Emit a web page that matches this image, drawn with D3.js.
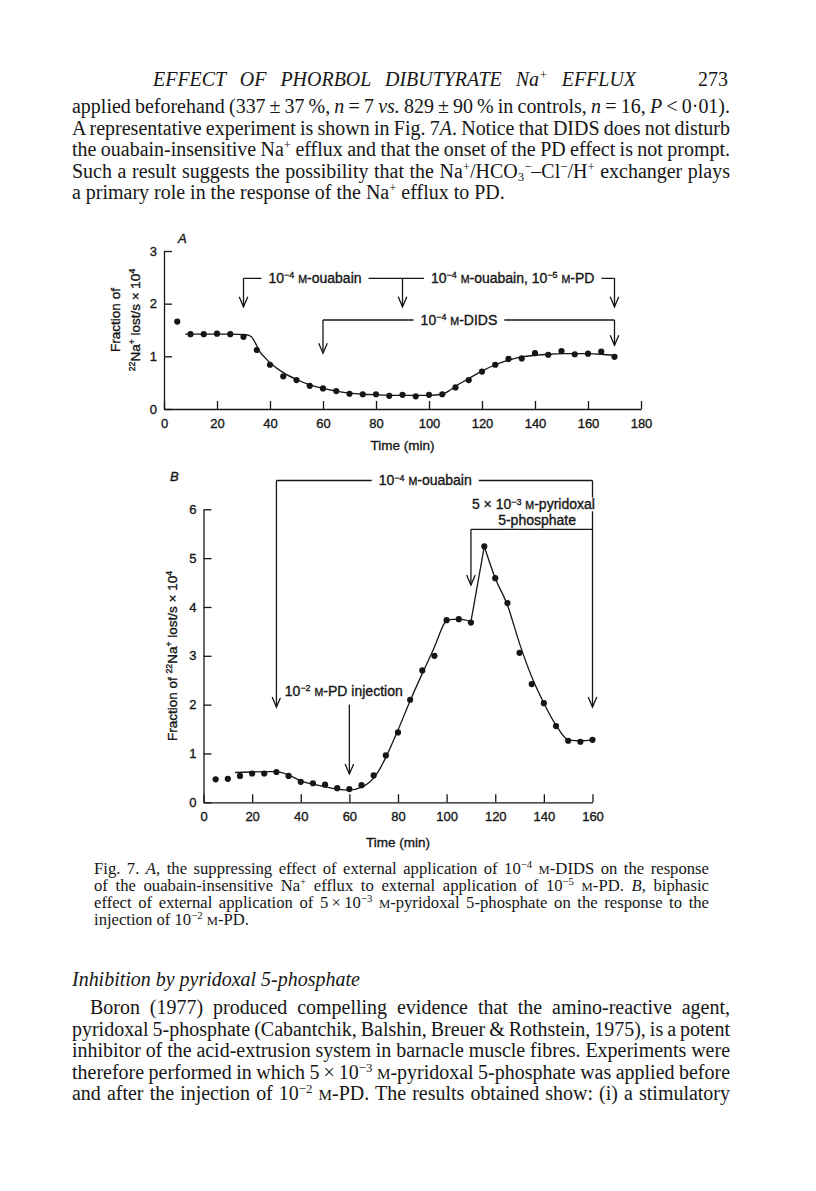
<!DOCTYPE html>
<html>
<head>
<meta charset="utf-8">
<script src="https://cdn.jsdelivr.net/npm/d3@7"></script>
<style>
  body { margin: 0; background: #fff; }
  svg { display: block; }
</style>
</head>
<body>
<script>
// ---------------------------------------------------------------------------
// Data (Fig. 7 A and B)

// Panel A: ouabain-insensitive Na efflux, DIDS then PD
const timeA  = [5, 10, 15, 20, 25, 30, 35, 40, 45, 50, 55, 60, 65, 70, 75, 80, 85,
                90, 95, 100, 105, 110, 115, 120, 125, 130, 135, 140, 145, 150, 155, 160, 165, 170];
const valueA = [1.66, 1.42, 1.42, 1.43, 1.42, 1.37, 1.12, 0.84, 0.62, 0.55, 0.44, 0.39, 0.34, 0.29, 0.28, 0.28, 0.25,
                0.27, 0.24, 0.27, 0.28, 0.41, 0.55, 0.71, 0.84, 0.95, 0.96, 1.06, 1.03, 1.10, 1.04, 1.05, 1.09, 0.99];
// hand drawn line through panel A
const fitTimeA  = [8, 15, 25, 31, 33, 34.5, 36, 38, 40, 45, 50, 55, 60, 65, 70, 75, 80, 90, 100, 105,
                   108, 110, 115, 120, 125, 130, 135, 140, 145, 150, 160, 165, 170];
const fitValueA = [1.42, 1.42, 1.42, 1.41, 1.37, 1.25, 1.10, 0.98, 0.88, 0.69, 0.56, 0.46, 0.39, 0.34, 0.30, 0.28, 0.27, 0.26, 0.26, 0.28,
                   0.36, 0.43, 0.58, 0.72, 0.84, 0.93, 0.99, 1.02, 1.04, 1.05, 1.05, 1.04, 1.02];

// Panel B: PD injection, then pyridoxal 5-phosphate
const timeB  = [5, 10, 15, 20, 25, 30, 35, 40, 45, 50, 55, 60, 65, 70, 75, 80,
                85, 90, 95, 100, 105, 110, 115.5, 120, 125, 130, 135, 140, 145, 150, 155, 160];
const valueB = [0.47, 0.48, 0.54, 0.59, 0.59, 0.62, 0.54, 0.42, 0.39, 0.36, 0.29, 0.27, 0.35, 0.55, 0.96, 1.43,
                2.10, 2.70, 3.00, 3.73, 3.75, 3.68, 5.24, 4.59, 4.08, 3.06, 2.42, 2.03, 1.56, 1.26, 1.24, 1.28];
const fitTimeB  = [13, 20, 25, 30, 35, 40, 45, 50, 55, 60, 65, 68, 70, 72, 75, 80, 85, 90, 95, 99, 100,
                   105, 110, 115.5, 120, 125, 130, 135, 140, 145, 150, 155, 160];
const fitValueB = [0.61, 0.62, 0.63, 0.63, 0.56, 0.44, 0.37, 0.32, 0.27, 0.25, 0.31, 0.40, 0.50, 0.64, 0.92, 1.48, 2.08, 2.64, 3.18, 3.66, 3.73,
                   3.75, 3.70, 5.24, 4.59, 4.04, 3.25, 2.57, 2.03, 1.58, 1.28, 1.26, 1.28];

const xTicksA = [0, 20, 40, 60, 80, 100, 120, 140, 160, 180];
const yTicksA = [0, 1, 2, 3];
const xTicksB = [0, 20, 40, 60, 80, 100, 120, 140, 160];
const yTicksB = [0, 1, 2, 3, 4, 5, 6];

// annotations, in data units (time, value)
const bracketsA = [
  {y: 2.48, from: 30, to: 170, arrows: [[30, 1.94], [90, 1.94], [170, 1.94]]},
  {y: 1.69, from: 60, to: 170, arrows: [[60, 1.06], [170, 1.21]]}
];
const labelsA = [
  {t: 57,    v: 2.39, text: "10^{−4} `{m}-ouabain"},
  {t: 131.6, v: 2.39, text: "10^{−4} `{m}-ouabain, 10^{−5} `{m}-PD"},
  {t: 111.3, v: 1.60, text: "10^{−4} `{m}-DIDS"}
];
const bracketsB = [
  {y: 6.59, from: 30,  to: 160, arrows: [[30, 1.95], [160, 1.95]]},
  {y: 5.59, from: 110, to: 160, arrows: [[110, 4.45]]},
  {y: 2.00, from: 60,  to: 60,  arrows: [[60, 0.58]]}
];
const labelsB = [
  {t: 91.2,  v: 6.49, text: "10^{−4} `{m}-ouabain"},
  {t: 135.7, v: 6.00, text: "5 × 10^{−3} `{m}-pyridoxal"},
  {t: 137.2, v: 5.68, text: "5-phosphate"},
  {t: 57.7,  v: 2.18, text: "10^{−2} `{m}-PD injection"}
];

// page text
const runningHead = "EFFECT OF PHORBOL DIBUTYRATE Na^{+} EFFLUX";
const pageNumber = "273";
const para1 = [
  "applied beforehand (337\u2009±\u200937\u2009%, ~{n} = 7 ~{vs.} 829\u2009±\u200990\u2009% in controls, ~{n} = 16, ~{P} < 0·01).",
  "A representative experiment is shown in Fig. 7~{A}. Notice that DIDS does not disturb",
  "the ouabain-insensitive Na^{+} efflux and that the onset of the PD effect is not prompt.",
  "Such a result suggests the possibility that the Na^{+}/HCO_{3}^{−}–Cl^{−}/H^{+} exchanger plays",
  "a primary role in the response of the Na^{+} efflux to PD."
];
const caption = [
  "Fig. 7. ~{A}, the suppressing effect of external application of 10^{−4} `{m}-DIDS on the response",
  "of the ouabain-insensitive Na^{+} efflux to external application of 10^{−5} `{m}-PD. ~{B}, biphasic",
  "effect of external application of 5\u2009×\u200910^{−3} `{m}-pyridoxal 5-phosphate on the response to the",
  "injection of 10^{−2} `{m}-PD."
];
const sectionHead = "Inhibition by pyridoxal 5-phosphate";
const para2 = [
  "Boron (1977) produced compelling evidence that the amino-reactive agent,",
  "pyridoxal 5-phosphate (Cabantchik, Balshin, Breuer & Rothstein, 1975), is a potent",
  "inhibitor of the acid-extrusion system in barnacle muscle fibres. Experiments were",
  "therefore performed in which 5\u2009×\u200910^{−3} `{m}-pyridoxal 5-phosphate was applied before",
  "and after the injection of 10^{−2} `{m}-PD. The results obtained show: (i) a stimulatory"
];

// ---------------------------------------------------------------------------
const WIDTH = 816, HEIGHT = 1191;
const ink = "#161616";
const SERIF = "'Liberation Serif','Times New Roman',serif";
const SANS = "'Liberation Sans',Arial,Helvetica,sans-serif";

let svg = d3.select("body").append("svg")
              .attr("width", WIDTH)
              .attr("height", HEIGHT);

svg.append("rect").attr("width", WIDTH).attr("height", HEIGHT).attr("fill", "#fff");

// little markup: ^{sup} _{sub} ~{italic} `{small caps}
function rich(sel, str, size) {
  let cur = 0;
  str.split(/(\^\{[^}]*\}|_\{[^}]*\}|~\{[^}]*\}|`\{[^}]*\})/).forEach(p => {
    if (!p) return;
    let kind = "n", body = p;
    if (/^[\^_~`]\{/.test(p)) { kind = p[0]; body = p.slice(2, -1); }
    let off = kind === "^" ? -0.34 * size : kind === "_" ? 0.2 * size : 0;
    let fs = (kind === "^" || kind === "_") ? 0.64 * size : kind === "`" ? 0.76 * size : size;
    let t = sel.append("tspan")
               .attr("dy", off - cur)
               .attr("font-size", fs)
               .text(kind === "`" ? body.toUpperCase() : body);
    if (kind === "~") t.attr("font-style", "italic");
    cur = off;
  });
  return sel;
}

function measure(str, size, family, style) {
  let t = svg.append("text").attr("font-family", family).attr("font-size", size)
             .attr("font-style", style || null);
  rich(t, str, size);
  let w = t.node().getComputedTextLength();
  t.remove();
  return w;
}

// one line of page text, optionally justified to a width
function textLine(x, y, str, size, width, style) {
  let t = svg.append("text")
             .attr("x", x).attr("y", y)
             .attr("font-family", SERIF)
             .attr("font-size", size)
             .attr("font-style", style || null)
             .attr("fill", ink);
  rich(t, str, size);
  if (width) {
    let len = t.node().getComputedTextLength();
    let spaces = (t.node().textContent.match(/ /g) || []).length;
    if (spaces) t.attr("word-spacing", (width - len) / spaces);
  }
  return t;
}

// ---------------------------------------------------------------------------
// page text around the figure

const bodySize = 17 * 433 / measure(para1[4], 17, SERIF);
const capSize  = 13 * 155 / measure(caption[3], 13, SERIF);
const LEAD = 21.5;

textLine(153, 86, runningHead, bodySize, 483, "italic");
textLine(698, 86, pageNumber, bodySize);

para1.forEach((s, i) => textLine(72, 113 + i * LEAD, s, bodySize, i < para1.length - 1 ? 658 : null));

caption.forEach((s, i) => textLine(94, 874 + i * 17, s, capSize, i < caption.length - 1 ? 615 : null));

textLine(72, 985.5, sectionHead, bodySize, null, "italic");
para2.forEach((s, i) => textLine(i === 0 ? 90 : 72, 1014 + i * LEAD, s, bodySize, i === 0 ? 640 : 658));

// ---------------------------------------------------------------------------
// chart helpers

function chartText(sel, size) {
  return sel.attr("font-family", SANS)
            .attr("font-size", size)
            .attr("fill", ink)
            .attr("stroke", ink)
            .attr("stroke-width", 0.35);
}

function styleAxis(g) {
  g.attr("font-family", SANS).attr("font-size", 13);
  g.selectAll("path.domain, .tick line").attr("stroke", ink).attr("stroke-width", 1.3);
  g.selectAll("text").attr("fill", ink).attr("stroke", ink).attr("stroke-width", 0.35);
}

function drawAnnotations(x, y, brackets, labels) {
  let g = svg.append("g")
             .attr("stroke", ink)
             .attr("stroke-width", 1.3)
             .attr("fill", "none");
  brackets.forEach(b => {
    if (b.from !== b.to) {
      g.append("line")
        .attr("x1", x(b.from)).attr("x2", x(b.to))
        .attr("y1", y(b.y)).attr("y2", y(b.y));
    }
    b.arrows.forEach(([t, tip]) => {
      g.append("line")
        .attr("x1", x(t)).attr("x2", x(t))
        .attr("y1", y(b.y)).attr("y2", y(tip));
      g.append("path")
        .attr("d", "M" + (x(t) - 4.3) + "," + (y(tip) - 10) + "L" + x(t) + "," + y(tip) + "L" + (x(t) + 4.3) + "," + (y(tip) - 10));
    });
  });
  labels.forEach(l => {
    let t = svg.append("text")
               .attr("x", x(l.t)).attr("y", y(l.v))
               .attr("text-anchor", "middle")
               .call(chartText, 14);
    rich(t, l.text, 14);
    let bb = t.node().getBBox();
    svg.insert("rect", () => t.node())
        .attr("x", bb.x - 7).attr("y", bb.y + 1)
        .attr("width", bb.width + 14).attr("height", bb.height - 2)
        .attr("fill", "#fff");
  });
}

function drawSeries(x, y, times, values, fitTimes, fitValues, sharpPeak) {
  let line = d3.line()
               .x(d => x(d[0]))
               .y(d => y(d[1]))
               .curve(d3.curveMonotoneX);
  let fit = fitTimes.map((t, i) => [t, fitValues[i]]);
  let parts = [fit];
  if (sharpPeak) {
    // straight rise into a pointed peak, as drawn in the figure
    let k = d3.maxIndex(fit, d => d[1]);
    parts = [fit.slice(0, k), fit.slice(k - 1, k + 1), fit.slice(k)];
  }
  parts.forEach(p => {
    svg.append("path")
        .attr("d", line(p))
        .attr("fill", "none")
        .attr("stroke", ink)
        .attr("stroke-width", 1.3);
  });
  svg.append("g").selectAll("circle")
      .data(times.map((t, i) => [t, values[i]]))
      .enter().append("circle")
        .attr("cx", d => x(d[0]))
        .attr("cy", d => y(d[1]))
        .attr("r", 3.1)
        .attr("fill", ink);
}

function yTitle(x, y, lines) {
  lines.forEach((s, i) => {
    let t = svg.append("text")
               .attr("transform", "translate(" + (x + i * 20) + "," + y + ") rotate(-90)")
               .attr("text-anchor", "middle")
               .call(chartText, 13.5);
    rich(t, s, 13.5);
  });
}

const intFormat = d3.format("d");

// ---------------------------------------------------------------------------
// Panel A

let xA = d3.scaleLinear().domain([0, 180]).range([164, 641]);
let yA = d3.scaleLinear().domain([0, 3]).range([409, 251]);

svg.append("g")
    .attr("transform", "translate(0," + yA(0) + ")")
    .call(d3.axisBottom(xA).tickValues(xTicksA).tickFormat(intFormat).tickSize(-8).tickSizeOuter(0).tickPadding(9.5))
    .call(styleAxis);
svg.append("g")
    .attr("transform", "translate(" + xA(0) + ",0)")
    .call(d3.axisLeft(yA).tickValues(yTicksA).tickFormat(intFormat).tickSize(-8).tickSizeOuter(0).tickPadding(7))
    .call(styleAxis);

svg.append("text")
    .attr("x", (xA(0) + xA(180)) / 2).attr("y", 450)
    .attr("text-anchor", "middle")
    .call(chartText, 13.5)
    .text("Time (min)");
yTitle(120, 320, ["Fraction of", "^{22}Na^{+} lost/s × 10^{4}"]);
svg.append("text")
    .attr("x", 178).attr("y", 243)
    .attr("font-style", "italic")
    .call(chartText, 13)
    .text("A");

drawAnnotations(xA, yA, bracketsA, labelsA);
drawSeries(xA, yA, timeA, valueA, fitTimeA, fitValueA, false);

// ---------------------------------------------------------------------------
// Panel B

let xB = d3.scaleLinear().domain([0, 160]).range([203.5, 592.5]);
let yB = d3.scaleLinear().domain([0, 6]).range([802.3, 509.3]);

svg.append("g")
    .attr("transform", "translate(0," + yB(0) + ")")
    .call(d3.axisBottom(xB).tickValues(xTicksB).tickFormat(intFormat).tickSize(-8).tickSizeOuter(0).tickPadding(9.5))
    .call(styleAxis);
svg.append("g")
    .attr("transform", "translate(" + xB(0) + ",0)")
    .call(d3.axisLeft(yB).tickValues(yTicksB).tickFormat(intFormat).tickSize(-8).tickSizeOuter(0).tickPadding(7))
    .call(styleAxis);

svg.append("text")
    .attr("x", (xB(0) + xB(160)) / 2).attr("y", 847)
    .attr("text-anchor", "middle")
    .call(chartText, 13.5)
    .text("Time (min)");
yTitle(177, 656, ["Fraction of ^{22}Na^{+} lost/s × 10^{4}"]);
svg.append("text")
    .attr("x", 170).attr("y", 481)
    .attr("font-style", "italic")
    .call(chartText, 13)
    .text("B");

drawAnnotations(xB, yB, bracketsB, labelsB);
drawSeries(xB, yB, timeB, valueB, fitTimeB, fitValueB, true);
</script>
</body>
</html>
